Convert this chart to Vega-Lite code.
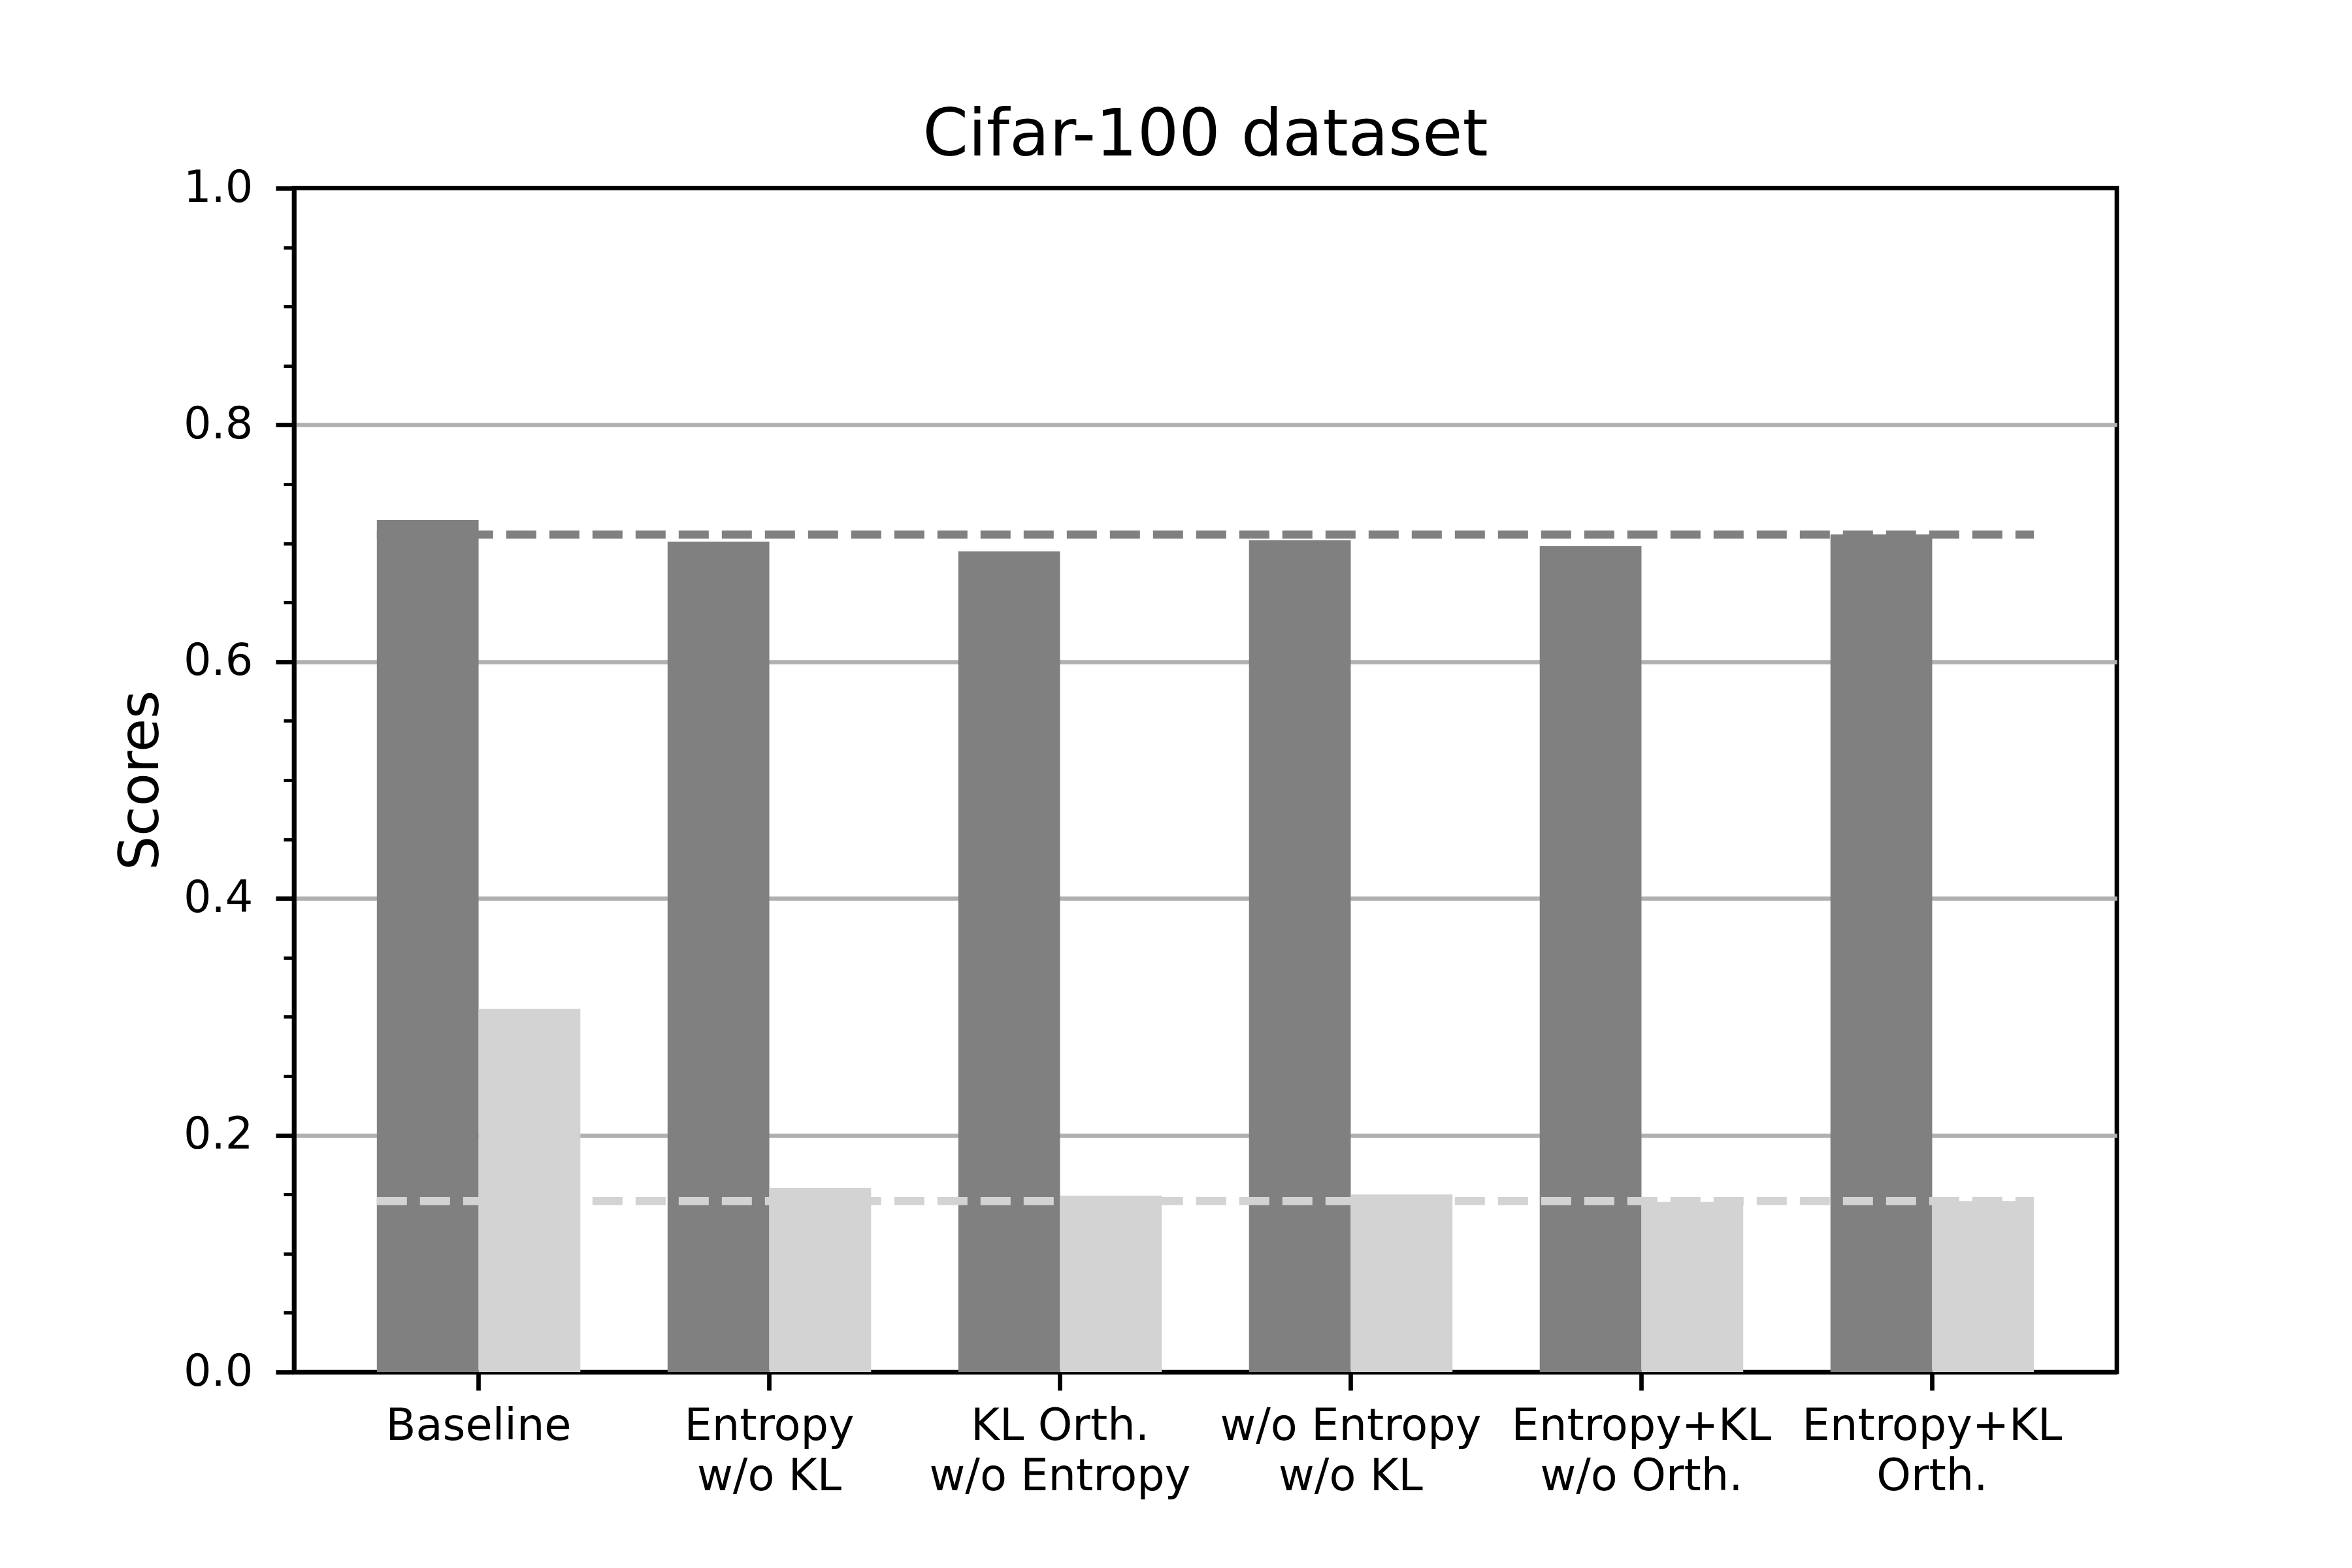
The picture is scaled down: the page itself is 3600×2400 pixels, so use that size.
{
  "$schema": "https://vega.github.io/schema/vega-lite/v6.json",
  "width": 2790,
  "height": 1812,
  "autosize": {"type": "none"},
  "padding": {"left": 450, "top": 288, "right": 360, "bottom": 300},
  "background": "white",
  "title": {
    "text": "Cifar-100 dataset",
    "font": "DejaVu Sans",
    "fontSize": 100,
    "fontWeight": "normal",
    "color": "black",
    "anchor": "middle",
    "baseline": "alphabetic",
    "offset": 48,
    "dy": 132
  },
  "datasets": {
    "scores": [
      {"method": "Baseline", "series": "Series 1", "score": 0.7196},
      {"method": "Baseline", "series": "Series 2", "score": 0.3068},
      {"method": "Entropy\nw/o KL", "series": "Series 1", "score": 0.7014},
      {"method": "Entropy\nw/o KL", "series": "Series 2", "score": 0.1556},
      {"method": "KL Orth.\nw/o Entropy", "series": "Series 1", "score": 0.6932},
      {"method": "KL Orth.\nw/o Entropy", "series": "Series 2", "score": 0.149},
      {"method": "w/o Entropy\nw/o KL", "series": "Series 1", "score": 0.7025},
      {"method": "w/o Entropy\nw/o KL", "series": "Series 2", "score": 0.150},
      {"method": "Entropy+KL\nw/o Orth.", "series": "Series 1", "score": 0.6976},
      {"method": "Entropy+KL\nw/o Orth.", "series": "Series 2", "score": 0.1436},
      {"method": "Entropy+KL\nOrth.", "series": "Series 1", "score": 0.7075},
      {"method": "Entropy+KL\nOrth.", "series": "Series 2", "score": 0.1445}
    ],
    "refs": [
      {"series": "Series 1", "score": 0.7073},
      {"series": "Series 2", "score": 0.1444}
    ]
  },
  "layer": [
    {
      "data": {"name": "scores"},
      "mark": {"type": "bar"},
      "encoding": {
        "x": {
          "field": "method",
          "type": "nominal",
          "sort": null,
          "scale": {"paddingInner": 0.3, "paddingOuter": 0.285},
          "axis": {
            "title": null,
            "labelAngle": 0,
            "labelExpr": "split(datum.label, '\\n')",
            "labelLimit": 0,
            "labelFont": "DejaVu Sans",
            "labelFontSize": 67,
            "labelLineHeight": 77,
            "labelColor": "black",
            "labelPadding": 22,
            "labelBaseline": "top",
            "tickSize": 28,
            "tickWidth": 6.7,
            "tickColor": "black",
            "domainColor": "black",
            "domainWidth": 6.7,
            "grid": false
          }
        },
        "xOffset": {
          "field": "series",
          "type": "nominal",
          "scale": {"paddingInner": 0, "paddingOuter": 0}
        },
        "y": {
          "field": "score",
          "type": "quantitative",
          "scale": {"domain": [0, 1], "nice": false},
          "axis": {
            "title": "Scores",
            "titleFont": "DejaVu Sans",
            "titleFontSize": 83,
            "titleFontWeight": "normal",
            "titleColor": "black",
            "titlePadding": 22,
            "values": [0, 0.05, 0.1, 0.15, 0.2, 0.25, 0.3, 0.35, 0.4, 0.45, 0.5, 0.55, 0.6, 0.65, 0.7, 0.75, 0.8, 0.85, 0.9, 0.95, 1.0],
            "labelExpr": "round(datum.value * 100) % 20 == 0 ? format(datum.value, '.1f') : ''",
            "labelOverlap": false,
            "labelFont": "DejaVu Sans",
            "labelFontSize": 67,
            "labelColor": "black",
            "labelPadding": 35,
            "tickColor": "black",
            "tickSize": {"condition": {"test": "round(datum.value * 100) % 20 == 0", "value": 28}, "value": 16},
            "tickWidth": {"condition": {"test": "round(datum.value * 100) % 20 == 0", "value": 6.7}, "value": 5},
            "domainColor": "black",
            "domainWidth": 6.7,
            "grid": true,
            "gridColor": "#b0b0b0",
            "gridWidth": 6.7,
            "gridOpacity": {"condition": {"test": "round(datum.value * 100) % 20 == 0 && datum.value > 0.01 && datum.value < 0.99", "value": 1}, "value": 0}
          }
        },
        "color": {
          "field": "series",
          "type": "nominal",
          "scale": {"domain": ["Series 1", "Series 2"], "range": ["#808080", "#d3d3d3"]},
          "legend": null
        }
      }
    },
    {
      "data": {"name": "refs"},
      "mark": {"type": "rule", "strokeWidth": 12.5, "strokeDash": [46, 20]},
      "encoding": {
        "x": {"datum": "Baseline", "bandPosition": 0},
        "x2": {"datum": "Entropy+KL\nOrth.", "bandPosition": 1},
        "y": {"field": "score", "type": "quantitative"},
        "color": {"field": "series", "type": "nominal", "legend": null}
      }
    }
  ],
  "config": {
    "view": {"stroke": "black", "strokeWidth": 6.7},
    "font": "DejaVu Sans"
  }
}
